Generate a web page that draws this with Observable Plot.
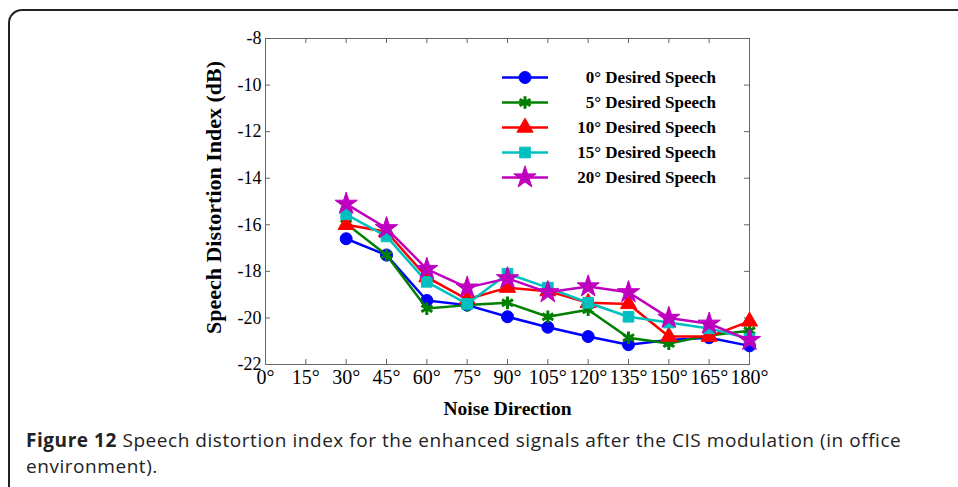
<!DOCTYPE html>
<html>
<head>
<meta charset="utf-8">
<script src="https://cdn.jsdelivr.net/npm/d3@7"></script>
<script src="https://cdn.jsdelivr.net/npm/@observablehq/plot@0.6"></script>
<style>
  html, body { margin: 0; padding: 0; background: #fff; }
  body { width: 958px; height: 487px; overflow: hidden; position: relative; }
  #frame { position: absolute; left: 8px; top: 9px; width: 1100px; height: 600px;
           border-left: 2px solid #222; border-top: 2px solid #222; border-top-left-radius: 14px; }
  #chart { position: absolute; left: 0; top: 0; }
  #legend { position: absolute; left: 500px; top: 65px; width: 216px;
            font-family: "Liberation Serif", serif; font-weight: bold; font-size: 17px; color: #000; }
  #legend .row { display: flex; align-items: center; height: 25px; }
  #legend .row span { flex: 1; text-align: right; white-space: nowrap; }
  #caption { position: absolute; left: 26px; top: 427px; width: 930px;
             font-family: "Open Sans", sans-serif; font-size: 19px; letter-spacing: 0.55px;
             line-height: 26px; color: #222; white-space: nowrap; }
</style>
</head>
<body>
<div id="frame"></div>
<div id="chart"></div>
<div id="legend"></div>
<div id="caption"><b>Figure 12</b> Speech distortion index for the enhanced signals after the CIS modulation (in office<br>environment).</div>
<script>
// ---- data ----
const directions = [30, 45, 60, 75, 90, 105, 120, 135, 150, 165, 180];
const seriesNames = ["0° Desired Speech", "5° Desired Speech", "10° Desired Speech", "15° Desired Speech", "20° Desired Speech"];
const sdi0  = [-16.6, -17.3, -19.25, -19.45, -19.95, -20.4, -20.8, -21.15, -20.95, -20.85, -21.2];
const sdi5  = [-15.95, -17.3, -19.6, -19.45, -19.35, -19.95, -19.65, -20.85, -21.1, -20.75, -20.55];
const sdi10 = [-16.0, -16.3, -18.25, -19.2, -18.7, -18.85, -19.35, -19.4, -20.8, -20.8, -20.15];
const sdi15 = [-15.55, -16.5, -18.45, -19.4, -18.1, -18.7, -19.35, -19.95, -20.2, -20.45, -20.9];
const sdi20 = [-15.1, -16.15, -17.9, -18.7, -18.3, -18.9, -18.65, -18.9, -20.0, -20.25, -20.95];
const seriesValues = [sdi0, sdi5, sdi10, sdi15, sdi20];
const seriesColors = ["#0000ff", "#007f00", "#ff0000", "#00bfbf", "#bf00bf"];
const seriesSymbols = ["circle", "asterisk", "triangle", "square", "star"];
const xTicks = [0, 15, 30, 45, 60, 75, 90, 105, 120, 135, 150, 165, 180];
const yTicks = [-22, -20, -18, -16, -14, -12, -10, -8];
const xLabel = "Noise Direction";
const yLabel = "Speech Distortion Index (dB)";

// ---- layout ----
const W = 958, H = 430, mL = 265, mR = 209, mT = 38, mB = 66;
const plotW = W - mL - mR, plotH = H - mT - mB;
const tickLen = 5;
const axisColor = "#666";

const marks = [
  Plot.frame({stroke: axisColor}),
  Plot.ruleX(xTicks, {x: d => d, insetTop: plotH - tickLen, stroke: axisColor}),
  Plot.ruleX(xTicks, {x: d => d, insetBottom: plotH - tickLen, stroke: axisColor}),
  Plot.ruleY(yTicks, {y: d => d, insetRight: plotW - tickLen, stroke: axisColor}),
  Plot.ruleY(yTicks, {y: d => d, insetLeft: plotW - tickLen, stroke: axisColor}),
  Plot.axisX({ticks: xTicks, tickSize: 0, tickPadding: 5, tickFormat: d => d + "°", fontSize: 20, label: null}),
  Plot.axisY({ticks: yTicks, tickSize: 0, tickPadding: 4, tickFormat: d => String(d), fontSize: 18, label: null}),
  Plot.text([xLabel], {frameAnchor: "bottom", dy: 44, lineAnchor: "middle", fontSize: 19.5, fontWeight: "bold", text: d => d}),
  Plot.text([yLabel], {frameAnchor: "left", dx: -52, dy: -4, rotate: -90, textAnchor: "middle", lineAnchor: "middle", fontSize: 22, fontWeight: "bold", text: d => d})
];

seriesValues.forEach((vals, i) => {
  const rows = directions.map((x, j) => ({x, y: vals[j]}));
  marks.push(Plot.lineY(rows, {x: "x", y: "y", stroke: seriesColors[i], strokeWidth: 2.5}));
  const sym = seriesSymbols[i];
  const isStroke = sym === "asterisk";
  marks.push(Plot.dot(rows, {
    x: "x", y: "y", symbol: () => sym, r: sym === "star" ? 7 : 6,
    fill: isStroke ? "none" : seriesColors[i],
    stroke: seriesColors[i], strokeWidth: isStroke ? 3 : 1
  }));
});

const chart = Plot.plot({
  width: W, height: H,
  marginLeft: mL, marginRight: mR, marginTop: mT, marginBottom: mB,
  style: {fontFamily: "Liberation Serif, serif", color: "#000", background: "transparent", overflow: "visible"},
  x: {domain: [0, 180], label: null},
  y: {domain: [-22, -8], label: null},
  symbol: {type: "identity"},
  marks
});
document.getElementById("chart").appendChild(chart);

// ---- legend ----
const symMap = {circle: d3.symbolCircle, asterisk: d3.symbolAsterisk, triangle: d3.symbolTriangle, square: d3.symbolSquare, star: d3.symbolStar};
const legend = d3.select("#legend");
seriesNames.forEach((name, i) => {
  const row = legend.append("div").attr("class", "row");
  const svg = row.append("svg").attr("width", 50).attr("height", 25);
  svg.append("line").attr("x1", 2).attr("x2", 48).attr("y1", 12.5).attr("y2", 12.5)
     .attr("stroke", seriesColors[i]).attr("stroke-width", 2.5);
  const sym = seriesSymbols[i];
  const r = sym === "star" ? 7 : 6;
  svg.append("path").attr("transform", "translate(25,12.5)")
     .attr("d", d3.symbol(symMap[sym], r * r * Math.PI)())
     .attr("fill", sym === "asterisk" ? "none" : seriesColors[i])
     .attr("stroke", seriesColors[i]).attr("stroke-width", sym === "asterisk" ? 3 : 1);
  row.append("span").text(name);
});
</script>
</body>
</html>
